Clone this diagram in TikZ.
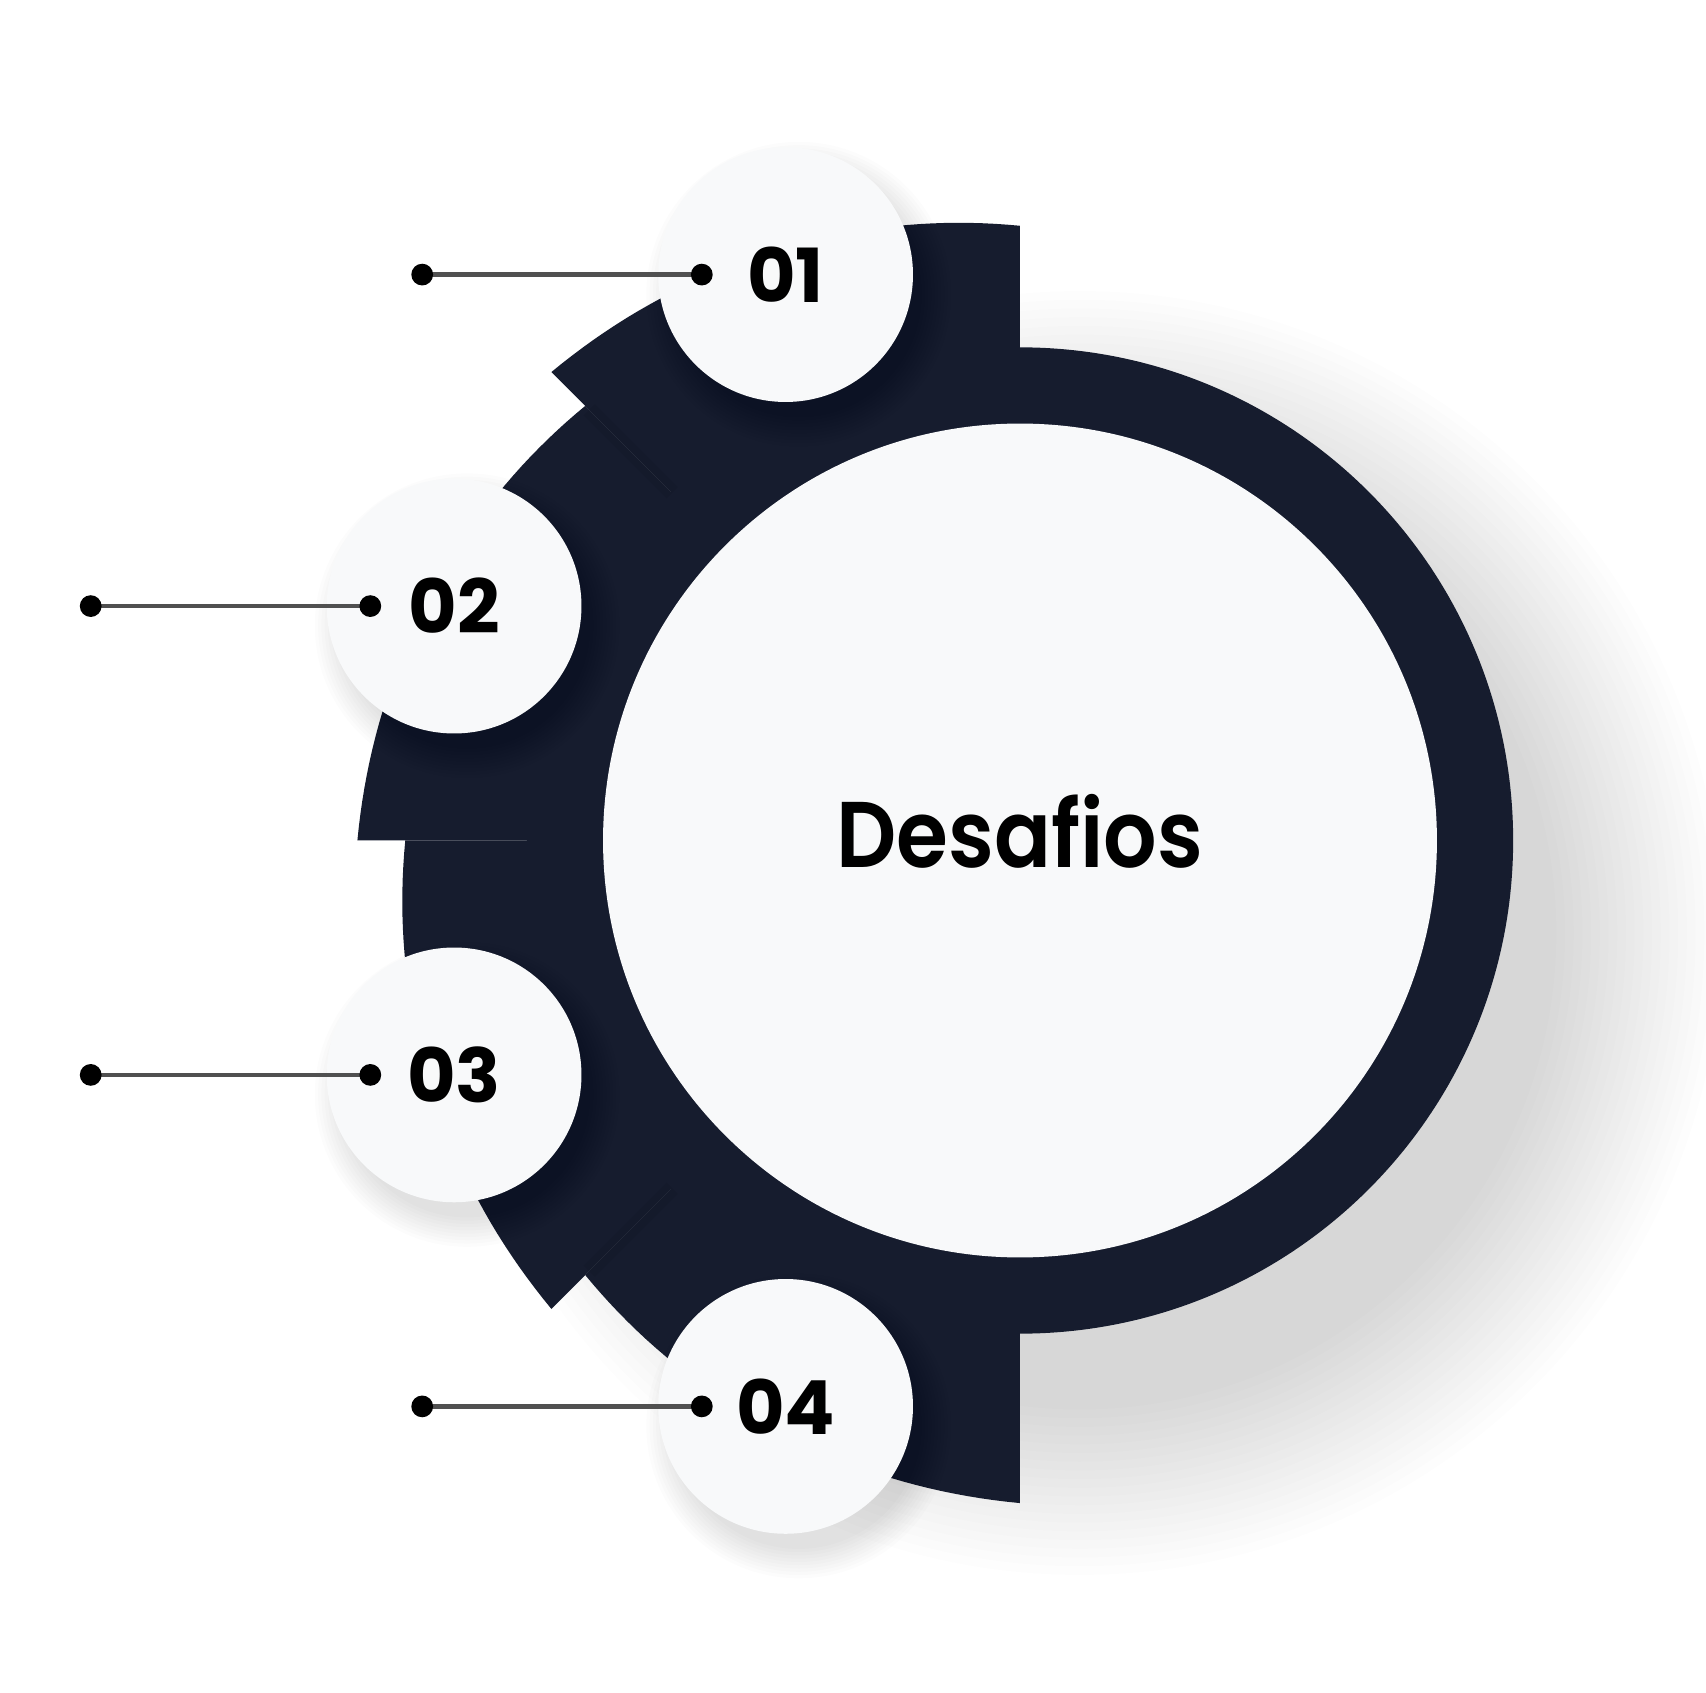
\documentclass[tikz,border=0pt]{standalone}
\usepackage{fontspec}
\setmainfont{Poppins}[Ligatures=NoCommon]
\newfontfamily\titlefont{Poppins SemiBold}[Ligatures=NoCommon, FakeStretch=0.9]
\usetikzlibrary{calc}
\definecolor{ringnavy}{HTML}{161C2E}
\definecolor{disc}{HTML}{F8F9FA}
\definecolor{pin}{HTML}{505050}
\tikzset{
  numdisc/.style={circle, fill=disc, minimum size=2.34cm, inner sep=0pt,
    font=\bfseries\fontsize{19.5pt}{19.5pt}\selectfont},
  pinline/.style={draw=pin, line width=1.2pt},
}
\begin{document}
\begin{tikzpicture}[x=0.01cm, y=0.01cm]
\useasboundingbox[fill=white] (-937.5,-783.5) rectangle (630.5,772.5);

% soft shadow of the ring
\foreach \k in {1,...,20}
  \fill[black, opacity=0.007] (55,-85) circle ({430+8*\k});

% the ring and its four stepped segments
\node[circle, fill=ringnavy, minimum size=9.06cm, inner sep=0pt] (ring) at (0,0) {};
\foreach \i in {0,...,3}
  \fill[ringnavy] (0,0) -- plot[domain=0:45, samples=40] ({90+45*\i+\x}:{565+44*\x/45}) -- cycle;
\foreach \a in {135,225}
  \draw[black, opacity=0.06, line width=4pt] (\a:452) -- (\a:560);

% shadows of the number discs
\foreach \a in {112.5,157.5,202.5,247.5}
  \foreach \k in {1,...,10}
    \fill[black, opacity=0.012] ($(\a:563)+(12,-18)$) circle ({110+3*\k});

% centre disc
\node[circle, fill=disc, minimum size=7.66cm, inner sep=0pt,
  font=\titlefont\fontsize{24.4pt}{24.4pt}\selectfont] (hub) at (0,0) {\raisebox{1.7mm}{Desafios}};

% number discs
\foreach \a/\t [count=\n] in {112.5/01,157.5/02,202.5/03,247.5/04}
  \node[numdisc] (c\n) at (\a:563) {\t};

% pointer lines
\foreach \n in {1,...,4} {
  \coordinate (a\n) at ($(c\n.center)+(-334,0)$);
  \coordinate (b\n) at ($(c\n.center)+(-77,0)$);
  \draw[pinline] (a\n) -- (b\n);
  \fill[pin] (a\n) circle (10) (b\n) circle (10);
}
\end{tikzpicture}
\end{document}
